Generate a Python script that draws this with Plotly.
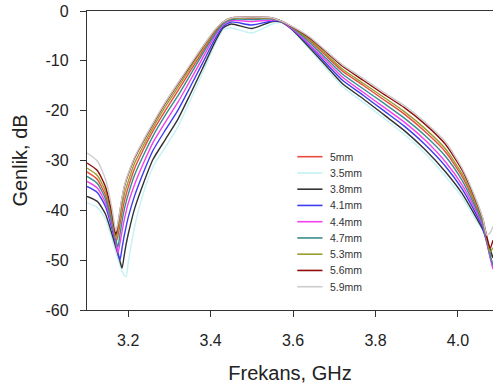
import plotly.graph_objects as go

# Frequency grid (GHz)
freq = [3.10, 3.125, 3.145, 3.16, 3.17, 3.175, 3.18, 3.185, 3.19, 3.195,
        3.20, 3.215, 3.235, 3.26, 3.29, 3.32, 3.35, 3.38, 3.41, 3.43,
        3.45, 3.50, 3.55, 3.57, 3.60, 3.64, 3.68, 3.72, 3.77, 3.82,
        3.87, 3.92, 3.97, 4.01, 4.04, 4.06, 4.07, 4.078, 4.085]

names = ["5mm", "3.5mm", "3.8mm", "4.1mm", "4.4mm", "4.7mm", "5.3mm", "5.6mm", "5.9mm"]
colors = ["#e84c3d", "#c4f2f4", "#333333", "#3c3cf0", "#f040f0",
          "#3a8c8c", "#9c9c2c", "#900a0a", "#cccccc"]

amp_5mm = [-32.3, -33.8, -37.0, -41.6, -46.3, -45.2, -42.8, -40.4, -38.4, -36.8,
           -35.4, -31.7, -28.1, -24.1, -20.0, -16.1, -12.1, -8.2, -4.4, -2.5,
           -1.5, -1.4, -1.5, -2.0, -3.4, -5.9, -9.0, -12.1, -14.9, -17.8,
           -20.7, -24.2, -28.3, -33.2, -38.3, -42.3, -45.8, -48.7, -49.5]
amp_3_5mm = [-38.5, -39.4, -41.8, -45.6, -48.4, -49.8, -51.0, -52.2, -53.0, -53.3,
             -50.5, -43.5, -37.0, -31.3, -27.3, -23.3, -18.0, -12.5, -6.8, -3.8,
             -3.4, -4.4, -2.6, -2.3, -4.0, -7.7, -11.5, -15.2, -18.3, -21.5,
             -24.8, -28.6, -33.2, -37.4, -41.4, -44.1, -46.6, -49.0, -51.0]
amp_3_8mm = [-37.2, -38.2, -40.8, -44.6, -47.4, -48.8, -50.2, -51.6, -49.2, -46.8,
             -44.8, -39.8, -35.0, -29.8, -25.8, -21.8, -16.8, -11.6, -6.3, -3.4,
             -2.6, -3.5, -2.1, -2.2, -3.9, -7.4, -11.0, -14.6, -17.6, -20.8,
             -24.0, -27.8, -32.3, -36.6, -40.8, -43.8, -46.0, -47.8, -49.5]
amp_4_1mm = [-35.2, -36.4, -39.3, -43.5, -46.8, -48.4, -50.0, -47.6, -45.2, -43.2,
             -41.4, -37.2, -32.8, -28.0, -23.9, -20.0, -15.3, -10.5, -5.7, -3.1,
             -2.2, -2.8, -2.0, -2.1, -3.8, -7.0, -10.5, -13.9, -16.9, -20.0,
             -23.1, -26.8, -31.2, -35.7, -40.1, -43.4, -46.5, -49.3, -51.5]
amp_4_4mm = [-34.2, -35.5, -38.5, -42.8, -46.4, -48.6, -46.6, -44.2, -42.0, -40.2,
             -38.6, -34.9, -30.9, -26.4, -22.3, -18.4, -14.0, -9.5, -5.1, -2.8,
             -1.9, -2.1, -1.8, -2.0, -3.7, -6.7, -10.0, -13.3, -16.3, -19.3,
             -22.3, -25.9, -30.3, -34.9, -39.5, -43.0, -46.3, -49.5, -51.8]
amp_4_7mm = [-33.2, -34.6, -37.7, -42.2, -45.8, -47.4, -44.8, -42.2, -40.0, -38.3,
             -36.8, -33.0, -29.3, -25.1, -20.9, -17.1, -12.9, -8.7, -4.7, -2.6,
             -1.7, -1.7, -1.6, -2.0, -3.5, -6.3, -9.5, -12.7, -15.6, -18.5,
             -21.5, -25.0, -29.2, -34.0, -38.9, -42.6, -46.0, -49.0, -51.0]
amp_5_3mm = [-31.5, -33.0, -36.2, -41.0, -45.6, -44.0, -41.5, -39.0, -37.0, -35.5,
             -34.2, -30.6, -27.3, -23.4, -19.2, -15.4, -11.5, -7.7, -4.1, -2.3,
             -1.5, -1.3, -1.5, -2.0, -3.4, -5.7, -8.7, -11.7, -14.5, -17.3,
             -20.2, -23.6, -27.7, -32.7, -37.9, -42.0, -45.5, -48.3, -47.5]
amp_5_6mm = [-30.5, -32.0, -35.3, -40.3, -44.9, -42.8, -40.2, -37.6, -35.5, -34.0,
             -32.8, -29.6, -26.4, -22.7, -18.5, -14.7, -11.0, -7.3, -3.9, -2.2,
             -1.4, -1.2, -1.4, -2.0, -3.3, -5.4, -8.2, -11.1, -13.9, -16.7,
             -19.4, -22.7, -26.8, -31.9, -37.3, -41.7, -45.3, -47.6, -46.0]
amp_5_9mm = [-28.5, -30.1, -33.8, -39.3, -44.2, -42.5, -40.0, -37.4, -35.3, -33.8,
             -32.6, -29.4, -26.2, -22.5, -18.3, -14.5, -10.8, -7.2, -3.8, -2.2,
             -1.4, -1.2, -1.4, -2.0, -3.2, -5.2, -8.0, -10.8, -13.5, -16.3,
             -19.0, -22.3, -26.3, -31.5, -37.0, -41.5, -45.0, -44.5, -43.2]

series = [amp_5mm, amp_3_5mm, amp_3_8mm, amp_4_1mm, amp_4_4mm,
          amp_4_7mm, amp_5_3mm, amp_5_6mm, amp_5_9mm]

x_ticks = [3.2, 3.4, 3.6, 3.8, 4.0]
x_ticktext = ["3.2", "3.4", "3.6", "3.8", "4.0"]
y_ticks = [0, -10, -20, -30, -40, -50, -60]
y_ticktext = ["0", "-10", "-20", "-30", "-40", "-50", "-60"]

FONT = "Arial, Liberation Sans, sans-serif"

fig = go.Figure()
for name, vals, color in zip(names, series, colors):
    fig.add_trace(go.Scatter(
        x=freq, y=vals, mode="lines", name=name, showlegend=False,
        line=dict(color=color, width=1.4, shape="spline", smoothing=0.6)))

# Custom compact legend (paper coordinates)
leg_x0, leg_x1, leg_tx = 0.518, 0.580, 0.594
leg_top, leg_step = 0.5127, 0.05435
for i, (name, color) in enumerate(zip(names, colors)):
    yy = leg_top - i * leg_step
    fig.add_shape(type="line", xref="paper", yref="paper",
                  x0=leg_x0, x1=leg_x1, y0=yy, y1=yy,
                  line=dict(color=color, width=1.6))
    fig.add_annotation(xref="paper", yref="paper", x=leg_tx, y=yy, text=name,
                       showarrow=False, xanchor="left", yanchor="middle",
                       font=dict(family=FONT, size=10.5, color="#333333"))

fig.update_layout(
    width=493, height=392,
    margin=dict(l=87, r=0, t=11, b=82),
    paper_bgcolor="white", plot_bgcolor="white",
    font=dict(family=FONT, color="#222222"),
    showlegend=False,
    xaxis=dict(range=[3.1, 4.085], tickvals=x_ticks, ticktext=x_ticktext,
               ticks="outside", ticklen=6, tickwidth=1, tickcolor="#333333",
               showline=True, linecolor="#333333", linewidth=1.3, mirror=True,
               showgrid=False, zeroline=False, ticklabelstandoff=10,
               tickfont=dict(size=16, family=FONT, color="#222222"),
               title=dict(text="Frekans, GHz", standoff=17,
                          font=dict(size=20, family=FONT, color="#222222"))),
    yaxis=dict(range=[-60, 0], tickvals=y_ticks, ticktext=y_ticktext,
               ticks="outside", ticklen=6, tickwidth=1, tickcolor="#333333",
               showline=True, linecolor="#333333", linewidth=1.3, mirror=False,
               showgrid=False, zeroline=False, ticklabelstandoff=8,
               tickfont=dict(size=16, family=FONT, color="#222222"),
               title=dict(text="Genlik, dB", standoff=12,
                          font=dict(size=20, family=FONT, color="#222222"))),
)

fig.write_html("out.html", config={"displayModeBar": False},
               post_script="document.body.style.margin='0';document.body.style.padding='0';")
